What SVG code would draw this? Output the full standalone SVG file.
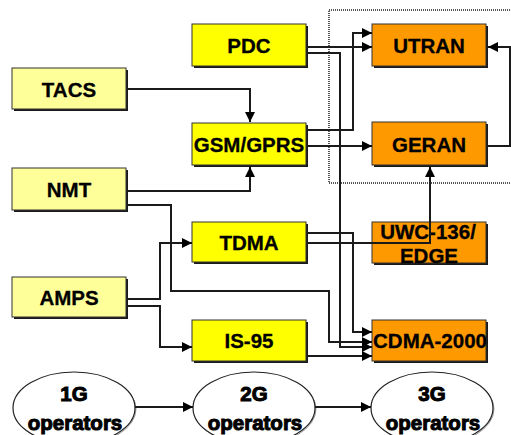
<svg xmlns="http://www.w3.org/2000/svg" width="511" height="435" viewBox="0 0 511 435">
<style>
.sh{fill:#1a1a1a}
.b{stroke:#333;stroke-width:1}
.g1{fill:#FFFF99}
.g2{fill:#FFFF00}
.g3{fill:#FF9900}
.t{font-family:"Liberation Sans",Arial,sans-serif;font-weight:bold;font-size:20.5px;fill:#000;text-anchor:middle;stroke:#000;stroke-width:0.3}
.et{stroke:#000;stroke-width:1}
.c{fill:none;stroke:#1a1a1a;stroke-width:2}
.e{fill:#fff;stroke:#222;stroke-width:1.2}
</style>
<defs>
<marker id="ah" markerUnits="userSpaceOnUse" markerWidth="10" markerHeight="10" refX="10" refY="5" orient="auto">
<path d="M0,0 L10,5 L0,10 z" fill="#000"/>
</marker>
</defs>
<rect x="329" y="10" width="190" height="173" fill="none" stroke="#555" stroke-width="2" stroke-dasharray="1 1"/>
<g id="tacs"><rect class="sh" x="14" y="70" width="114" height="41"/><rect class="b g1" x="12" y="68" width="114" height="41"/><text class="t" x="69" y="97">TACS</text></g>
<g id="nmt"><rect class="sh" x="14" y="170" width="114" height="42"/><rect class="b g1" x="12" y="168" width="114" height="42"/><text class="t" x="69" y="197">NMT</text></g>
<g id="amps"><rect class="sh" x="14" y="279" width="114" height="40"/><rect class="b g1" x="12" y="277" width="114" height="40"/><text class="t" x="69" y="305">AMPS</text></g>
<g id="pdc"><rect class="sh" x="194" y="26" width="114" height="42"/><rect class="b g2" x="192" y="24" width="114" height="42"/><text class="t" x="249" y="53">PDC</text></g>
<g id="gsm"><rect class="sh" x="194" y="125" width="114" height="42"/><rect class="b g2" x="192" y="123" width="114" height="42"/><text class="t" x="249" y="152">GSM/GPRS</text></g>
<g id="tdma"><rect class="sh" x="194" y="224" width="114" height="40"/><rect class="b g2" x="192" y="222" width="114" height="40"/><text class="t" x="249" y="250">TDMA</text></g>
<g id="is95"><rect class="sh" x="194" y="322" width="114" height="41"/><rect class="b g2" x="192" y="320" width="114" height="41"/><text class="t" x="249" y="348">IS-95</text></g>
<g id="utran"><rect class="sh" x="374" y="26" width="114" height="42"/><rect class="b g3" x="372" y="24" width="114" height="42"/><text class="t" x="429" y="53">UTRAN</text></g>
<g id="geran"><rect class="sh" x="374" y="124" width="114" height="43"/><rect class="b g3" x="372" y="122" width="114" height="43"/><text class="t" x="429" y="152">GERAN</text></g>
<g id="uwc"><rect class="sh" x="374" y="224" width="114" height="41"/><rect class="b g3" x="372" y="222" width="114" height="41"/><text class="t" x="428" y="239">UWC-136/</text><text class="t" x="429" y="263">EDGE</text></g>
<g id="cdma"><rect class="sh" x="374" y="322" width="114" height="41"/><rect class="b g3" x="372" y="320" width="114" height="41"/><text class="t" x="430" y="348">CDMA-2000</text></g>
<g id="op1"><ellipse cx="75" cy="409" rx="61" ry="36" fill="none" stroke="#999" stroke-width="1"/><ellipse class="e" cx="74" cy="408" rx="61" ry="36"/><text class="t et" x="74" y="401">1G</text><text class="t et" x="75" y="430">operators</text></g>
<g id="op2"><ellipse cx="255" cy="409" rx="61" ry="36" fill="none" stroke="#999" stroke-width="1"/><ellipse class="e" cx="254" cy="408" rx="61" ry="36"/><text class="t et" x="254" y="401">2G</text><text class="t et" x="255" y="430">operators</text></g>
<g id="op3"><ellipse cx="433" cy="409" rx="61" ry="36" fill="none" stroke="#999" stroke-width="1"/><ellipse class="e" cx="432" cy="408" rx="61" ry="36"/><text class="t et" x="432" y="401">3G</text><text class="t et" x="433" y="430">operators</text></g>
<g id="connectors">
<path class="c" d="M128,89 H250 V122" marker-end="url(#ah)"/>
<path class="c" d="M128,191 H250 V167" marker-end="url(#ah)"/>
<path class="c" d="M128,205 H171 V291 H329 V342 H372" marker-end="url(#ah)"/>
<path class="c" d="M128,299 H160 V243 H192" marker-end="url(#ah)"/>
<path class="c" d="M128,306 H160 V347 H192" marker-end="url(#ah)"/>
<path class="c" d="M308,47 H372" marker-end="url(#ah)"/>
<path class="c" d="M308,53 H340 V347 H372" marker-end="url(#ah)"/>
<path class="c" d="M308,130 H353 V33 H372" marker-end="url(#ah)"/>
<path class="c" d="M308,146 H372" marker-end="url(#ah)"/>
<path class="c" d="M308,233 H353 V332 H372" marker-end="url(#ah)"/>
<path class="c" d="M308,243 H430 V167" marker-end="url(#ah)"/>
<path class="c" d="M308,356 H372" marker-end="url(#ah)"/>
<path class="c" d="M488,146 H510 V47 H488" marker-end="url(#ah)"/>
<path class="c" d="M135,407 H193" marker-end="url(#ah)"/>
<path class="c" d="M315,407 H371" marker-end="url(#ah)"/>
</g>
</svg>
